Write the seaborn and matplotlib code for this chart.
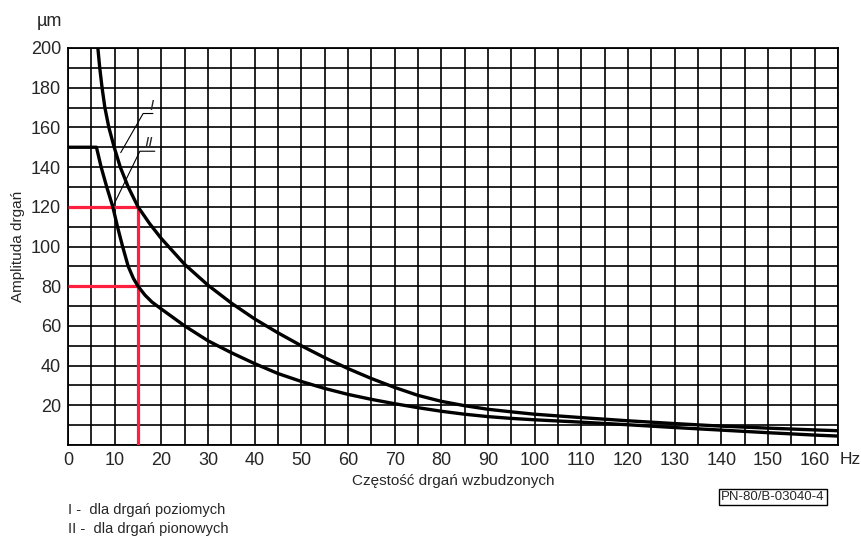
import numpy as np
import pandas as pd
import seaborn as sns
import matplotlib.pyplot as plt

# curve I - horizontal vibrations
freq_I = [6.4, 6.8, 7.3, 7.9, 8.75, 9.9, 11.2, 12.9, 15, 17.5, 20, 25, 30, 35, 40, 45, 50, 55, 60, 65, 70,
          75, 80, 85, 90, 95, 100, 110, 120, 130, 140, 150, 160, 165]
amp_I = [200, 190, 180, 170, 160, 150, 140, 130, 120, 111.5, 104, 91, 80.5, 71.5, 63.5, 56.5, 50, 44, 38.5, 33.5, 29,
         25, 22, 19.8, 18, 16.7, 15.5, 13.8, 12.2, 10.8, 9.5, 8.5, 7.6, 7.2]

# curve II - vertical vibrations
freq_II = [0, 6.1, 7.1, 8.3, 9.6, 10.6, 11.7, 12.9, 14, 15, 16.5, 18, 20, 25, 30, 35, 40, 45, 50, 55, 60, 65, 70,
           75, 80, 85, 90, 95, 100, 110, 120, 130, 140, 150, 160, 165]
amp_II = [150, 150, 140, 130, 120, 110, 100, 90, 84, 80, 75.5, 72, 68.5, 60, 52.5, 46.5, 41, 36, 32, 28.5, 25.5,
          23, 20.8, 18.8, 17, 15.5, 14.3, 13.4, 12.7, 11.5, 10.2, 8.8, 7.5, 6.2, 5, 4.5]

# red guide lines at 15 Hz
guide_x = [0, 15, 15]
guide_y = [120, 120, 0]
guide2_x = [0, 15]
guide2_y = [80, 80]

x_ticks = list(range(0, 161, 10))
y_ticks = list(range(20, 201, 20))

sns.set_style("white")
plt.rcParams['font.family'] = ['Liberation Sans', 'DejaVu Sans']

fig = plt.figure(figsize=(8.62, 5.41), dpi=100)
ax = fig.add_axes([68 / 862, 96 / 541, 770 / 862, 397 / 541])

df_I = pd.DataFrame({"f": freq_I, "a": amp_I})
df_II = pd.DataFrame({"f": freq_II, "a": amp_II})
sns.lineplot(data=df_I, x="f", y="a", ax=ax, color="black", lw=2.4, sort=False, zorder=5)
sns.lineplot(data=df_II, x="f", y="a", ax=ax, color="black", lw=2.4, sort=False, zorder=5)
ax.plot(guide_x, guide_y, color="#ff2040", lw=2.3, zorder=4, solid_capstyle="butt")
ax.plot(guide2_x, guide2_y, color="#ff2040", lw=2.3, zorder=4, solid_capstyle="butt")

# leader lines for the curve labels
ax.plot([11.3, 16.1, 18.2], [147.3, 167, 167], color="black", lw=0.8, zorder=3)
ax.plot([9.8, 15.4, 18.6], [121, 148, 148], color="black", lw=0.8, zorder=3)
ax.text(17.8, 167.5, "I", fontsize=11, style="italic", ha="center", va="bottom")
ax.text(17.2, 148.5, "II", fontsize=11, style="italic", ha="center", va="bottom")

ax.set_xlim(0, 165)
ax.set_ylim(0, 200)
ax.set_xticks(x_ticks)
ax.set_yticks(y_ticks)
ax.set_xticks(np.arange(0, 166, 5), minor=True)
ax.set_yticks(np.arange(0, 201, 10), minor=True)
ax.grid(which="both", color="black", lw=1.2)
ax.set_axisbelow(True)
ax.tick_params(which="both", length=0, labelsize=13, pad=5)
for s in ax.spines.values():
    s.set_color("black")
    s.set_linewidth(1.3)

ax.set_xlabel("Częstość drgań wzbudzonych", fontsize=11, labelpad=4)
ax.set_ylabel("Amplituda drgań", fontsize=11, labelpad=4)

fig.text(49 / 862, 1 - 22 / 541, "µm", fontsize=13, ha="center", va="center")
fig.text(840 / 862, 1 - 460 / 541, "Hz", fontsize=12.5, ha="left", va="center")
fig.text(68 / 862, 1 - 510 / 541, "I -  dla drgań poziomych", fontsize=10.5, ha="left", va="center")
fig.text(68 / 862, 1 - 529 / 541, "II -  dla drgań pionowych", fontsize=10.5, ha="left", va="center")
fig.text(773 / 862, 1 - 497 / 541, "PN-80/B-03040-4", fontsize=9.5, ha="center", va="center",
         bbox=dict(boxstyle="square,pad=0.15", fc="white", ec="black", lw=1))

fig.savefig("out.png", dpi=100)
